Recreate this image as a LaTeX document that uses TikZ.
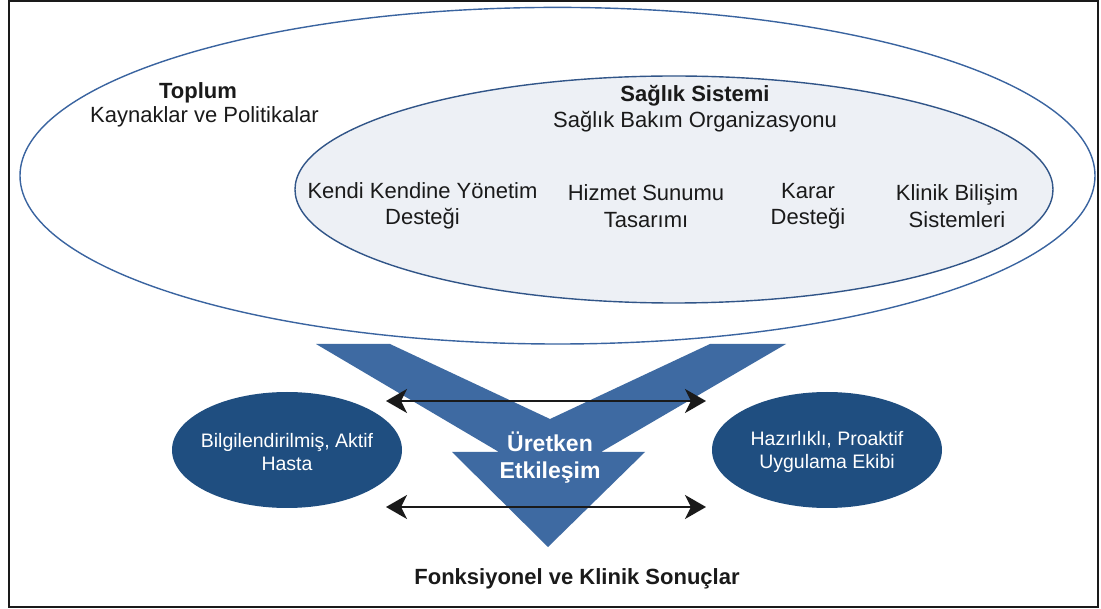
\documentclass[tikz,border=0pt]{standalone}
\usepackage{fontspec}
\setmainfont{Liberation Sans}
\usetikzlibrary{arrows.meta}
\definecolor{vblue}{HTML}{3E6AA2}
\definecolor{dblue}{HTML}{1F4E80}
\definecolor{ringblue}{HTML}{3A64A0}
\definecolor{innerfill}{HTML}{EDF0F5}
\definecolor{ink}{HTML}{1A1A1A}
\begin{document}
\begin{tikzpicture}[x=1pt,y=-1pt,
  ring/.style={draw=ringblue,line width=1.4pt},
  lbl/.style={text=ink,align=center,inner sep=0pt,font=\fontsize{22}{26.5}\selectfont},
  lblb/.style={lbl,font=\fontsize{22}{26.5}\selectfont\bfseries},
  wlbl/.style={text=white,align=center,inner sep=0pt,font=\fontsize{19.5}{23}\selectfont},
  biarrow/.style={draw=ink,line width=2.2pt,
    {Stealth[length=21pt,width=24pt,inset=6pt]}-{Stealth[length=21pt,width=24pt,inset=6pt]}}]
\useasboundingbox (0,0) rectangle (1101,609);
\fill[white] (0,0) rectangle (1101,609);
% frame
\draw[line width=2pt,ink] (8.5,1.5) rectangle (1098,607);

% society and health-system rings
\draw[ring,fill=white] (557.5,175.7) ellipse [x radius=537.5pt, y radius=168.3pt];
\draw[ring,draw=ringblue!85!black,fill=innerfill] (674,189.5) ellipse [x radius=379pt, y radius=113.5pt];

\node[lblb] (soc) at (198,93) {Toplum};
\node[lbl] (socsub) at (204.5,117) {Kaynaklar ve Politikalar};
\node[lblb] (hs) at (695,96) {Sağlık Sistemi};
\node[lbl] (hssub) at (695,122) {Sağlık Bakım Organizasyonu};

\node[lbl] (selfm) at (422.5,206) {Kendi Kendine Yönetim\\Desteği};
\node[lbl] (deliv) at (646,206) {Hizmet Sunumu\\Tasarımı};
\node[lbl] (decis) at (808,206) {Karar\\Desteği};
\node[lbl] (clin) at (957,206) {Klinik Bilişim\\Sistemleri};

% interaction chevron
\coordinate (v1) at (316,344);
\coordinate (v2) at (390,344);
\coordinate (v3) at (550,419);
\coordinate (v4) at (710,344);
\coordinate (v5) at (786,344);
\coordinate (v6) at (601,452);
\coordinate (v7) at (645,452);
\coordinate (v8) at (548,547);
\coordinate (v9) at (452,452);
\coordinate (v10) at (499,452);
\fill[vblue] (v1) -- (v2) -- (v3) -- (v4) -- (v5) -- (v6) -- (v7) -- (v8) -- (v9) -- (v10) -- cycle;

% patient and team
\fill[dblue] (287,450) ellipse [x radius=115pt, y radius=58pt];
\fill[dblue] (827,450) ellipse [x radius=115pt, y radius=58pt];
\node[wlbl] (pat) at (287,452) {Bilgilendirilmiş, Aktif\\Hasta};
\node[wlbl] (team) at (827,452) {Hazırlıklı, Proaktif\\Uygulama Ekibi};

% two-way arrows
\coordinate (a1l) at (386,401);
\coordinate (a1r) at (706,401);
\coordinate (a2l) at (386,507);
\coordinate (a2r) at (706,507);
\draw[biarrow] (a1l) -- (a1r);
\draw[biarrow] (a2l) -- (a2r);

\node[text=white,align=center,inner sep=0pt,font=\fontsize{23}{27}\selectfont\bfseries] (inter) at (550,458) {Üretken\\Etkileşim};

\node[lblb] (out) at (577,579) {Fonksiyonel ve Klinik Sonuçlar};
\end{tikzpicture}
\end{document}
